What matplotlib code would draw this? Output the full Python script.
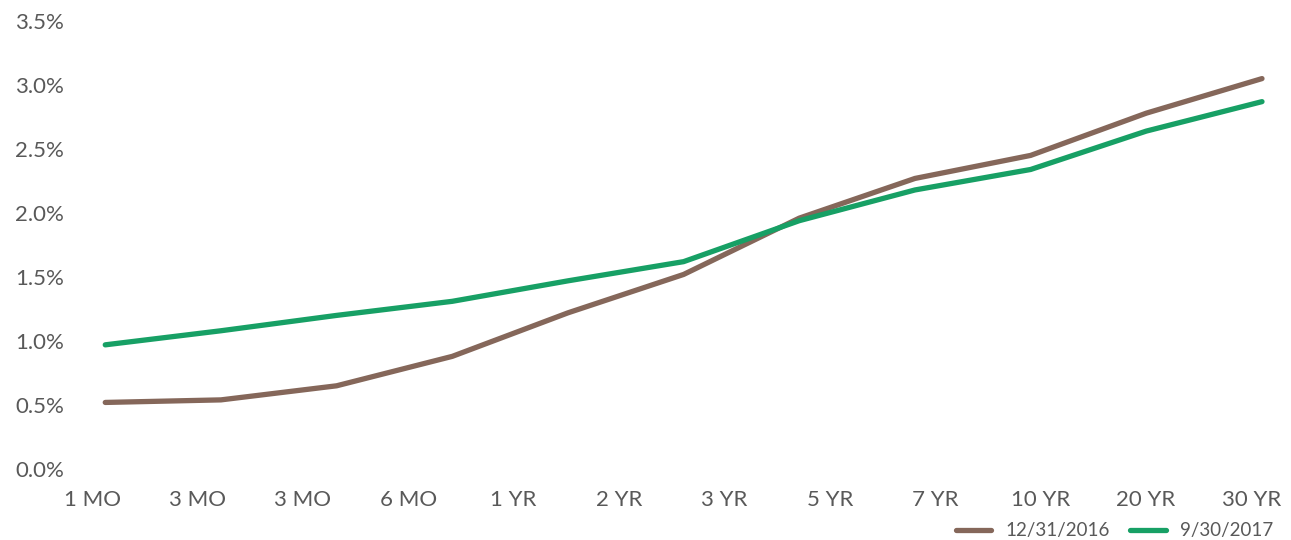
import numpy as np
import matplotlib
matplotlib.use("Agg")
import matplotlib.pyplot as plt

# tick labels as shown on the chart (12 labels, 11 data points)
tick_labels = ['1 MO', '3 MO', '3 MO', '6 MO', '1 YR', '2 YR', '3 YR',
               '5 YR', '7 YR', '10 YR', '20 YR', '30 YR']

# yields in percent
dec_2016 = [0.52, 0.54, 0.65, 0.88, 1.22, 1.52, 1.96, 2.27, 2.45, 2.78, 3.05]
sep_2017 = [0.97, 1.08, 1.20, 1.31, 1.47, 1.62, 1.94, 2.18, 2.34, 2.64, 2.87]

brown = '#85675A'
green = '#17A065'
grey = '#595959'

plt.rcParams['font.family'] = ['Lato', 'DejaVu Sans']

fig = plt.figure(figsize=(12.91, 5.40), dpi=100)
W, H = 1291, 540
# plot area in pixels: x from first to last data point, y from 0% to 3.5%
left, right, bottom, top = 92, 1262, 469, 21
ax = fig.add_axes([left / W, 1 - bottom / H, (right - left) / W, (bottom - top) / H])

x = np.arange(len(dec_2016))
ax.plot(x, dec_2016, color=brown, lw=3.8, solid_capstyle='round',
        solid_joinstyle='round', clip_on=False, label='12/31/2016')
ax.plot(x, sep_2017, color=green, lw=3.8, solid_capstyle='round',
        solid_joinstyle='round', clip_on=False, label='9/30/2017')

ax.set_xlim(0, len(dec_2016) - 1)
ax.set_ylim(0, 3.5)

# category labels are spaced on their own (12 slots) grid
unit = (right - left) / (len(dec_2016) - 1)
label_step = 106.6 / unit
label_start = (78.6 - left) / unit
ax.set_xticks(label_start + label_step * np.arange(len(tick_labels)))
ax.set_xticklabels(tick_labels)

yt = np.arange(0, 3.51, 0.5)
ax.set_yticks(yt)
ax.set_yticklabels(['%.1f%%' % v for v in yt])

for s in ax.spines.values():
    s.set_visible(False)
ax.tick_params(axis='both', length=0, colors=grey, labelsize=16)
ax.tick_params(axis='y', pad=20)
ax.tick_params(axis='x', pad=15)

fig.legend(loc='lower right', bbox_to_anchor=(1290 / W, -0.03), ncol=2,
           frameon=False, fontsize=13.5, handlelength=1.9, columnspacing=1.1,
           handletextpad=0.75, labelcolor=grey)

fig.savefig('out.png', dpi=100)
